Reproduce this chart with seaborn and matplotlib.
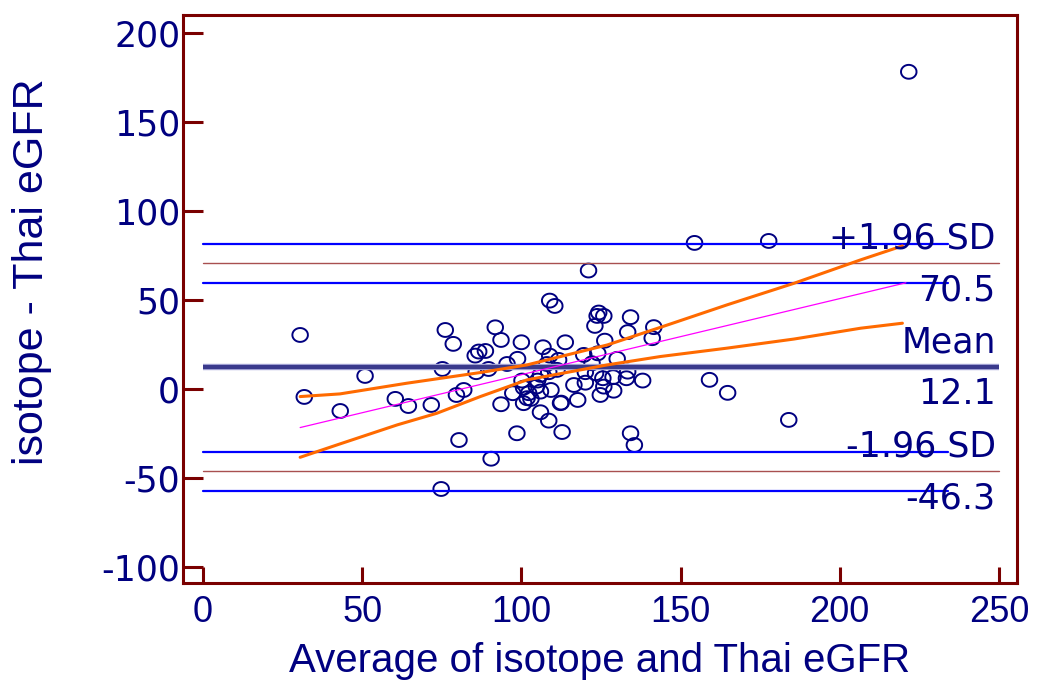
import numpy as np
import pandas as pd
import matplotlib
matplotlib.use("Agg")
import matplotlib.pyplot as plt
import seaborn as sns

# ---------------- data ----------------
avg_vals = [30.5, 31.8, 43.1, 50.9, 60.4, 64.5, 71.7, 76.1, 75.2, 78.6, 74.8, 79.6,
            80.4, 90.5, 98.6, 112.8, 134.3, 135.5,
            108.9, 110.5, 91.8, 93.6, 100.0, 106.8, 113.8, 86.6, 88.7, 85.5, 108.9, 111.7,
            98.8, 95.5, 89.7, 85.8, 108.0, 108.6, 111.2, 106.0, 100.2, 105.1, 81.9, 100.7,
            104.7, 109.3, 97.3, 102.3, 106.0, 101.8, 103.0, 100.7, 93.6, 112.3, 106.0, 108.6,
            124.3, 125.9, 123.8, 123.1, 134.3, 133.4, 141.6, 141.1, 126.2, 119.6, 124.0, 130.1,
            122.2, 120.1, 123.3, 125.6, 128.8, 133.4, 133.0, 138.1, 116.5, 120.1, 125.9, 129.0,
            124.8, 117.7, 112.5,
            121.1, 154.4, 177.7, 159.1, 164.8, 184.0, 221.7]
diff_vals = [30.3, -4.5, -12.4, 7.3, -5.6, -9.6, -9.0, 33.1, 11.2, 25.3, -56.2, -3.4,
             -28.7, -39.2, -24.9, -24.2, -24.9, -31.5,
             49.6, 46.6, 34.6, 27.5, 26.2, 23.4, 26.2, 21.0, 21.3, 18.7, 18.7, 16.3,
             16.9, 14.0, 11.2, 9.4, 14.0, 9.4, 10.7, 7.9, 4.7, 4.7, -0.6, 0.7,
             1.3, -0.6, -2.4, -2.4, -1.5, -5.2, -5.6, -8.0, -8.6, -8.0, -13.1, -17.8,
             42.9, 41.0, 41.0, 35.4, 40.3, 31.9, 34.7, 28.5, 27.1, 19.1, 20.0, 16.9,
             14.4, 9.4, 8.8, 6.0, 6.6, 9.7, 6.0, 4.7, 2.2, 3.5, 1.3, -1.0,
             -3.4, -6.2, -7.7,
             66.5, 82.0, 83.1, 5.1, -2.2, -17.4, 178.1]

mean_diff = 12.1
loa_upper = 70.5
loa_lower = -46.3
loa_upper_ci = [59.4, 81.6]
loa_lower_ci = [-57.4, -35.2]

reg_x = [30.5, 220.8]
reg_y = [-21.7, 59.6]
band_up_x = [30.5, 43.0, 64.0, 87.1, 101.8, 127.0, 143.7, 164.6, 185.6, 206.6, 219.7]
band_up_y = [-4.3, -2.8, 3.2, 9.2, 13.5, 24.7, 34.6, 47.2, 59.3, 72.5, 80.3]
band_lo_x = [30.5, 43.0, 61.0, 73.4, 87.1, 101.8, 127.0, 143.7, 164.6, 185.6, 206.6, 219.7]
band_lo_y = [-38.4, -30.9, -20.2, -13.7, -4.3, 5.1, 13.5, 18.2, 22.9, 28.0, 34.1, 36.9]

x_ticks = [0, 50, 100, 150, 200, 250]
y_ticks = [-100, -50, 0, 50, 100, 150, 200]
x_label = "Average of isotope and Thai eGFR"
y_label = "isotope - Thai eGFR"
right_labels = [("+1.96 SD", loa_upper, "above"), (f"{loa_upper:.1f}", loa_upper, "below"),
                ("Mean", mean_diff, "above"), (f"{mean_diff:.1f}", mean_diff, "below"),
                ("-1.96 SD", loa_lower, "above"), (f"{loa_lower:.1f}", loa_lower, "below")]

# ---------------- styling ----------------
sns.set_theme(style="white")
plt.rcParams["font.family"] = ["Liberation Sans", "DejaVu Sans"]

NAVY = "#000080"
FRAME = "#7a0000"

fig = plt.figure(figsize=(10.38, 6.91), dpi=100)
ax = fig.add_axes([183 / 1038, 1 - 583 / 691, (1017 - 183) / 1038, (583 - 15) / 691])

df = pd.DataFrame({"avg": avg_vals, "diff": diff_vals})
t = np.linspace(0, 2 * np.pi, 64)
ellipse = np.column_stack([1.12 * np.cos(t), np.sin(t)])
sns.scatterplot(data=df, x="avg", y="diff", ax=ax, marker=ellipse, s=125,
                facecolor="none", edgecolor=NAVY, linewidth=1.4, zorder=2)

x0, x_end_ci, x_end = 0, 234, 250
for v in loa_upper_ci + loa_lower_ci:
    ax.plot([x0, x_end_ci], [v, v], color="#0000ff", lw=1.6, zorder=3)
for v in (loa_upper, loa_lower):
    ax.plot([x0, x_end], [v, v], color="#a85050", lw=1.0, zorder=3)
ax.plot([x0, x_end], [mean_diff, mean_diff], color="#a8a8d8", lw=4.6, zorder=3,
        solid_capstyle="butt")
ax.plot([x0, x_end], [mean_diff, mean_diff], color="#3a3a8c", lw=3.0, zorder=3,
        solid_capstyle="butt")

sns.lineplot(x=reg_x, y=reg_y, ax=ax, color="#ff00ff", lw=0.9, sort=False,
             estimator=None, zorder=4)
sns.lineplot(x=band_up_x, y=band_up_y, ax=ax, color="#ff6a00", lw=2.2, sort=False,
             estimator=None, zorder=4)
sns.lineplot(x=band_lo_x, y=band_lo_y, ax=ax, color="#ff6a00", lw=2.2, sort=False,
             estimator=None, zorder=4)

for txt, val, pos in right_labels:
    if pos == "above":
        ax.annotate(txt, xy=(249, val), xytext=(0, 6), textcoords="offset points",
                    ha="right", va="bottom", fontsize=25, color=NAVY,
                    family=["DejaVu Sans"], zorder=5)
    else:
        ax.annotate(txt, xy=(249, val), xytext=(0, -7), textcoords="offset points",
                    ha="right", va="top", fontsize=25, color=NAVY,
                    family=["DejaVu Sans"], zorder=5)

ax.set_xlim(-6.3, 255.7)
ax.set_ylim(-109, 210)
ax.set_xticks(x_ticks)
ax.set_yticks(y_ticks)
ax.set_xticklabels([str(v) for v in x_ticks], fontsize=26, color=NAVY)
ax.set_yticklabels([str(v) for v in y_ticks], fontsize=25, color=NAVY,
                   family=["DejaVu Sans"])
ax.tick_params(axis="x", direction="in", length=11.5, width=2.2, color=FRAME, pad=9,
               bottom=True, top=False)
ax.tick_params(axis="y", direction="in", length=14.4, width=2.2, color=FRAME, pad=2,
               left=True, right=False)

ax.set_xlabel(x_label, fontsize=29, color=NAVY, labelpad=8)
ax.set_ylabel(y_label, fontsize=31, color=NAVY)
ax.yaxis.set_label_coords(-0.157, 0.5475)

for sp in ax.spines.values():
    sp.set_visible(True)
    sp.set_color(FRAME)
    sp.set_linewidth(2.2)
ax.grid(False)
ax.set_facecolor("white")
fig.patch.set_facecolor("white")

fig.savefig("out.png", dpi=100)
